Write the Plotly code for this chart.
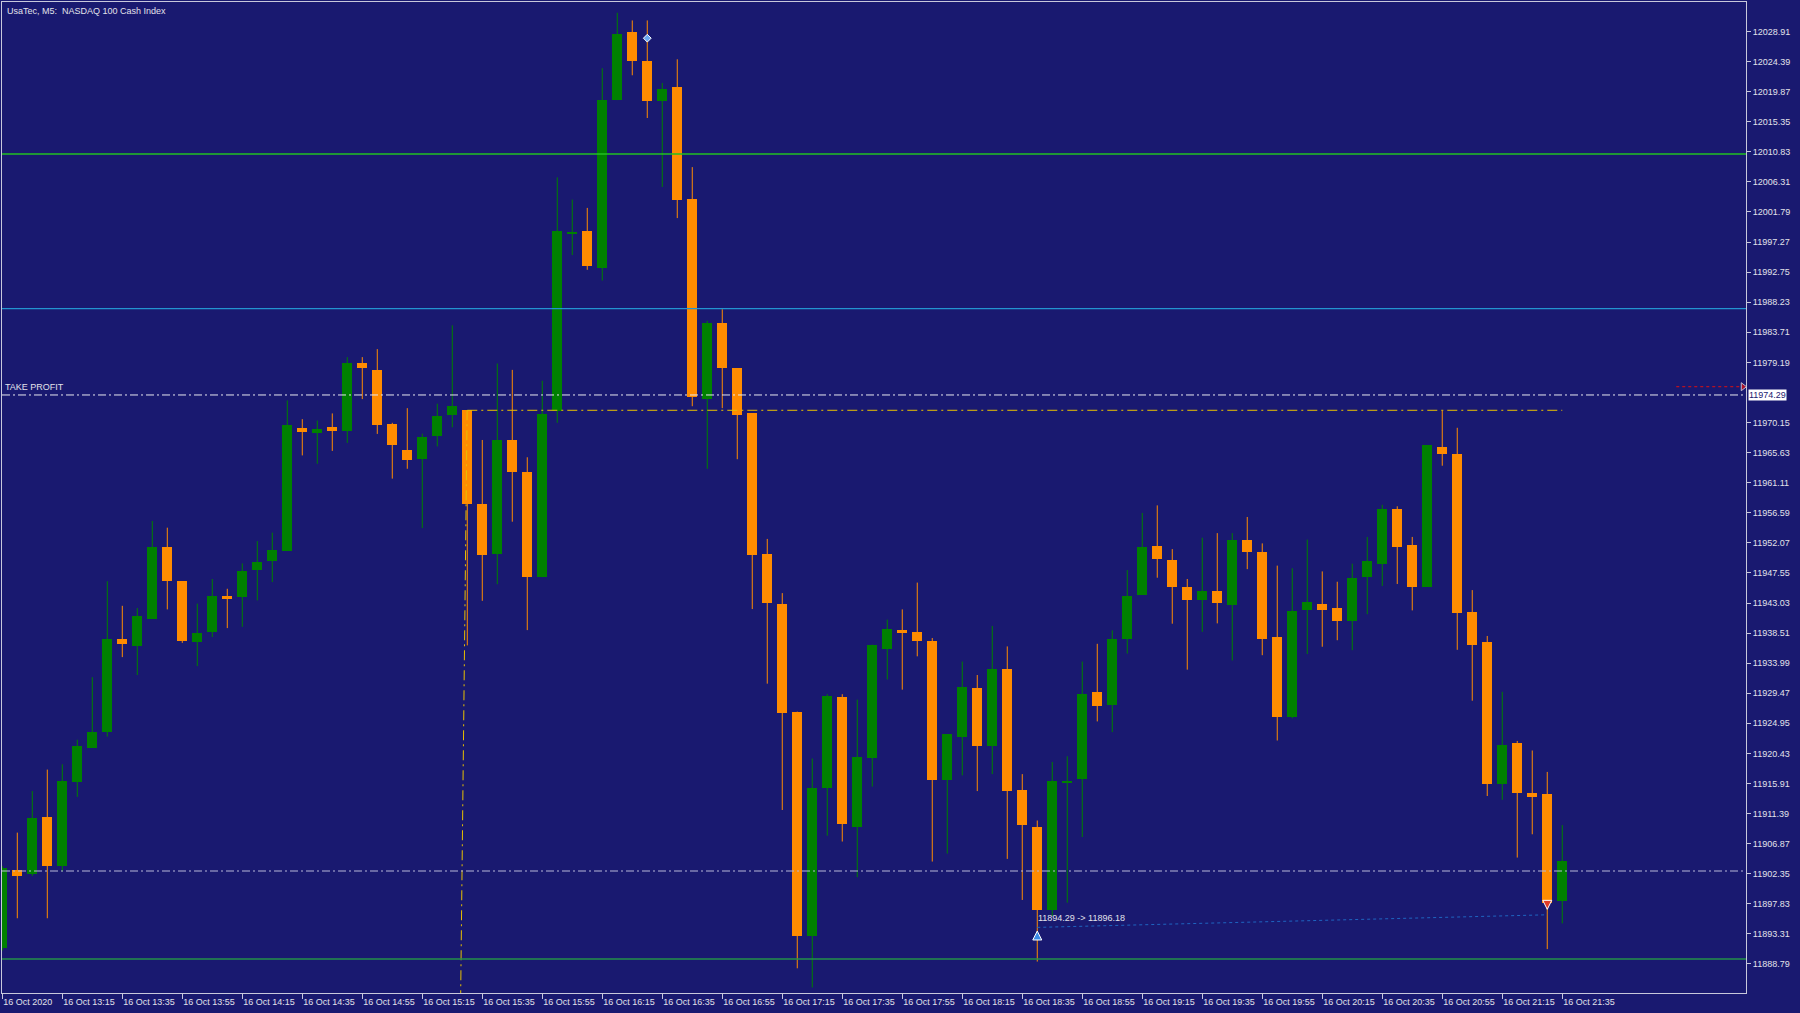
import plotly.graph_objects as go

# ---------------- data ----------------
bar_index = list(range(105))  # 5-minute bars, 16 Oct 2020 12:55 .. 21:35
opens = [11891.2, 11902.90, 11902.36, 11910.88, 11903.58, 11916.12, 11921.28, 11923.63, 11937.65, 11936.57,
         11940.66, 11951.46, 11946.30, 11937.17, 11938.72, 11944.00, 11943.95, 11947.92, 11949.39, 11950.86,
         11969.31, 11968.58, 11969.51, 11968.83, 11979.17, 11978.10, 11969.91, 11965.98, 11964.64, 11968.10,
         11971.25, 11972.02, 11957.94, 11950.46, 11967.53, 11962.73, 11946.91, 11971.82, 11998.60, 11998.94,
         11993.38, 12018.60, 12028.85, 12024.44, 12018.40, 12020.61, 12003.74, 11973.65, 11985.06, 11978.34,
         11971.54, 11950.46, 11942.88, 11926.71, 11893.04, 11915.25, 11928.92, 11909.40, 11919.80, 11936.17,
         11939.05, 11938.66, 11937.25, 11916.45, 11922.96, 11930.20, 11921.62, 11933.08, 11914.90, 11909.40,
         11896.86, 11916.10, 11916.59, 11929.60, 11927.72, 11937.58, 11944.29, 11951.60, 11949.52, 11945.50,
         11943.46, 11944.85, 11942.79, 11952.44, 11950.77, 11937.89, 11925.93, 11942.04, 11942.84, 11942.27,
         11940.37, 11946.98, 11948.94, 11957.16, 11951.70, 11945.44, 11966.53, 11965.49, 11941.70, 11937.10,
         11915.87, 11921.96, 11914.50, 11914.38, 11898.33]
highs = [11903.5, 11908.53, 11914.77, 11918.00, 11918.80, 11922.49, 11931.88, 11946.30, 11942.61, 11942.28,
         11955.35, 11954.35, 11946.30, 11942.94, 11946.64, 11945.17, 11948.98, 11952.33, 11953.61, 11973.47,
         11970.65, 11970.45, 11971.52, 11979.98, 11979.98, 11981.18, 11970.11, 11972.31, 11968.47, 11972.98,
         11984.76, 11972.02, 11967.53, 11979.02, 11978.06, 11964.93, 11976.43, 12006.99, 12003.65, 12002.40,
         12023.39, 12031.72, 12030.57, 12030.57, 12021.18, 12024.73, 12008.53, 11985.44, 11987.17, 11978.34,
         11971.54, 11952.66, 11944.52, 11926.71, 11919.67, 11929.33, 11929.33, 11928.52, 11936.78, 11940.54,
         11942.07, 11946.10, 11937.77, 11923.29, 11934.23, 11932.21, 11939.59, 11936.51, 11917.32, 11910.35,
         11919.14, 11920.00, 11934.23, 11936.90, 11938.92, 11947.98, 11956.57, 11957.70, 11951.13, 11946.64,
         11952.84, 11953.53, 11953.53, 11955.96, 11951.99, 11948.65, 11948.25, 11952.56, 11947.78, 11946.23,
         11948.94, 11952.96, 11957.79, 11957.56, 11952.96, 11966.76, 11971.94, 11969.36, 11944.97, 11938.08,
         11929.68, 11922.31, 11920.87, 11917.65, 11909.66]
lows = [11890.8, 11895.66, 11902.03, 11895.66, 11902.70, 11913.90, 11921.28, 11922.96, 11934.90, 11932.21,
        11940.66, 11942.07, 11937.04, 11933.55, 11937.92, 11939.26, 11939.46, 11943.42, 11946.18, 11950.86,
        11965.21, 11963.95, 11965.89, 11967.09, 11973.67, 11968.44, 11961.72, 11963.20, 11954.29, 11966.56,
        11969.43, 11936.66, 11943.36, 11945.86, 11955.25, 11938.96, 11946.91, 11970.11, 11995.31, 11993.10,
        11991.48, 12018.60, 12022.33, 12015.91, 12005.56, 12000.87, 11972.60, 11963.20, 11972.31, 11964.64,
        11942.12, 11930.91, 11911.93, 11888.14, 11885.26, 11908.07, 11907.19, 11901.83, 11915.45, 11931.54,
        11930.01, 11935.02, 11904.18, 11905.38, 11917.13, 11914.77, 11917.32, 11904.58, 11898.41, 11889.15,
        11895.99, 11898.00, 11907.87, 11925.24, 11923.63, 11935.43, 11944.29, 11946.83, 11939.92, 11933.02,
        11938.70, 11939.97, 11934.39, 11948.12, 11935.19, 11922.37, 11925.71, 11935.37, 11936.46, 11937.44,
        11935.94, 11941.35, 11945.60, 11945.89, 11941.92, 11945.44, 11963.66, 11936.00, 11928.35, 11914.03,
        11913.46, 11904.78, 11908.28, 11891.03, 11894.89]
closes = [11903.2, 11901.97, 11910.74, 11903.58, 11916.24, 11921.48, 11923.69, 11937.65, 11936.84, 11941.07,
          11951.46, 11946.30, 11937.38, 11938.53, 11944.16, 11943.80, 11947.84, 11949.18, 11950.93, 11969.78,
          11968.71, 11969.18, 11968.83, 11979.17, 11978.30, 11969.72, 11966.76, 11964.45, 11967.99, 11971.16,
          11972.59, 11957.94, 11950.28, 11967.53, 11962.73, 11946.91, 11971.36, 11998.86, 11998.70, 11993.68,
          12018.60, 12028.56, 12024.53, 12018.40, 12020.22, 12003.65, 11974.03, 11985.15, 11978.34, 11971.25,
          11950.28, 11943.08, 11926.50, 11893.04, 11915.25, 11929.06, 11909.87, 11919.88, 11936.78, 11939.13,
          11938.59, 11937.38, 11916.45, 11923.29, 11930.34, 11921.62, 11933.08, 11914.77, 11909.61, 11896.86,
          11916.24, 11916.30, 11929.33, 11927.51, 11937.58, 11944.08, 11951.46, 11949.66, 11945.50, 11943.42,
          11944.79, 11943.08, 11952.44, 11950.67, 11937.67, 11925.93, 11941.80, 11943.14, 11941.92, 11940.37,
          11946.80, 11949.28, 11957.10, 11951.42, 11945.44, 11966.76, 11965.49, 11941.51, 11936.75, 11915.87,
          11921.68, 11914.44, 11913.91, 11898.00, 11904.21]

# axis tick labels
x_tick_index = [0, 4, 8, 12, 16, 20, 24, 28, 32, 36, 40, 44, 48, 52, 56, 60, 64, 68, 72, 76, 80, 84, 88, 92, 96, 100, 104]
x_tick_labels = ["16 Oct 2020", "16 Oct 13:15", "16 Oct 13:35", "16 Oct 13:55", "16 Oct 14:15", "16 Oct 14:35",
                 "16 Oct 14:55", "16 Oct 15:15", "16 Oct 15:35", "16 Oct 15:55", "16 Oct 16:15", "16 Oct 16:35",
                 "16 Oct 16:55", "16 Oct 17:15", "16 Oct 17:35", "16 Oct 17:55", "16 Oct 18:15", "16 Oct 18:35",
                 "16 Oct 18:55", "16 Oct 19:15", "16 Oct 19:35", "16 Oct 19:55", "16 Oct 20:15", "16 Oct 20:35",
                 "16 Oct 20:55", "16 Oct 21:15", "16 Oct 21:35"]
y_tick_values = [12028.91, 12024.39, 12019.87, 12015.35, 12010.83, 12006.31, 12001.79, 11997.27, 11992.75,
                 11988.23, 11983.71, 11979.19, 11970.15, 11965.63, 11961.11, 11956.59, 11952.07, 11947.55,
                 11943.03, 11938.51, 11933.99, 11929.47, 11924.95, 11920.43, 11915.91, 11911.39, 11906.87,
                 11902.35, 11897.83, 11893.31, 11888.79]

# chart objects (price levels)
level_green_top = 12010.50
level_cyan = 11987.26
level_take_profit = 11974.29
level_red_arrow = 11975.53
level_yellow = 11971.99
level_entry = 11902.76
level_green_bottom = 11889.54
yellow_h_start = 31.0
yellow_h_end = 104.0
yellow_v_x = [30.99, 30.56]
yellow_v_y = [11971.99, 11884.43]
red_arrow_x = [111.6, 116.05]
trade_x = [69, 103]
trade_price = [11894.29, 11896.18]
trade_arrow_y = [11893.75, 11897.0]
top_marker_x = [43]
top_marker_y = [12027.9]

# ---------------- style ----------------
BG = "#191970"
UP = "#008000"
DOWN = "#FF8C00"
TXT = "#E2E2EA"
FRAME = "#C8C8DC"
FONT = "Liberation Sans"
FS = 9

x_range = [-0.02, 116.25]
y_range = [11884.43, 12033.34]

fig = go.Figure()

# wicks
for color, is_up in ((UP, True), (DOWN, False)):
    wx, wy = [], []
    for i, o, h, l, c in zip(bar_index, opens, highs, lows, closes):
        if (c >= o) == is_up:
            wx += [i, i, None]
            wy += [l, h, None]
    fig.add_trace(go.Scatter(x=wx, y=wy, mode="lines", line=dict(color=color, width=1),
                             hoverinfo="skip", showlegend=False))

# bodies
for color, is_up in ((UP, True), (DOWN, False)):
    bx, bb, bh = [], [], []
    for i, o, c in zip(bar_index, opens, closes):
        if (c >= o) == is_up:
            lo, hi = min(o, c), max(o, c)
            if hi - lo < 0.25:
                mid = (hi + lo) / 2
                lo, hi = mid - 0.125, mid + 0.125
            bx.append(i)
            bb.append(lo)
            bh.append(hi - lo)
    fig.add_trace(go.Bar(x=bx, y=bh, base=bb, width=0.68, marker=dict(color=color, line=dict(width=0)),
                         hoverinfo="skip", showlegend=False))

# horizontal levels (full width)
for lvl, col, dash, w in ((level_green_top, "#22C022", "solid", 1.4),
                          (level_cyan, "#2394D0", "solid", 1.4),
                          (level_green_bottom, "#23904A", "solid", 1.6),
                          (level_take_profit, "#E8E8F0", "8px,3px,2px,3px", 1),
                          (level_entry, "#B8B8D8", "8px,3px,2px,3px", 1.2)):
    fig.add_shape(type="line", xref="paper", x0=0, x1=1, yref="y", y0=lvl, y1=lvl,
                  line=dict(color=col, width=w, dash=dash), layer="above")

# yellow objects
fig.add_trace(go.Scatter(x=[yellow_h_start, yellow_h_end], y=[level_yellow, level_yellow], mode="lines",
                         line=dict(color="#E8C000", width=1, dash="10px,4px,2px,4px"),
                         hoverinfo="skip", showlegend=False))
fig.add_trace(go.Scatter(x=yellow_v_x, y=yellow_v_y, mode="lines",
                         line=dict(color="#E8C000", width=1, dash="10px,4px,2px,4px"),
                         hoverinfo="skip", showlegend=False))

# red dotted arrow line
fig.add_trace(go.Scatter(x=red_arrow_x, y=[level_red_arrow, level_red_arrow], mode="lines+markers",
                         line=dict(color="#E01010", width=1, dash="dot"),
                         marker=dict(symbol=["line-ns", "triangle-right"], size=[0, 7], color="#E01010"),
                         hoverinfo="skip", showlegend=False))

# trade line and arrows
fig.add_trace(go.Scatter(x=trade_x, y=trade_price, mode="lines",
                         line=dict(color="#1E64C0", width=1, dash="dot"),
                         hoverinfo="skip", showlegend=False))
fig.add_trace(go.Scatter(x=trade_x, y=trade_arrow_y, mode="markers",
                         marker=dict(symbol=["arrow-up", "arrow-down"], size=9,
                                     color=["#3C8CE6", "#E03C28"], line=dict(color="white", width=1)),
                         hoverinfo="skip", showlegend=False))
fig.add_trace(go.Scatter(x=top_marker_x, y=top_marker_y, mode="markers",
                         marker=dict(symbol="diamond", size=6, color="#6AA8F0", line=dict(color="white", width=1)),
                         hoverinfo="skip", showlegend=False))

annotations = [
    dict(text="UsaTec, M5:  NASDAQ 100 Cash Index", xref="paper", yref="paper", x=0, y=1, xshift=3, yshift=-2,
         xanchor="left", yanchor="top", showarrow=False, font=dict(family=FONT, size=FS, color=TXT)),
    dict(text="TAKE PROFIT", xref="paper", yref="y", x=0, y=level_take_profit, xshift=1, yshift=1,
         xanchor="left", yanchor="bottom", showarrow=False, font=dict(family=FONT, size=FS, color=TXT)),
    dict(text=f"{trade_price[0]:.2f} -> {trade_price[1]:.2f}", xref="x", yref="y", x=trade_x[0], y=trade_price[0],
         xshift=-1, yshift=2, xanchor="left", yanchor="bottom", showarrow=False,
         font=dict(family=FONT, size=FS, color=TXT)),
    dict(text=f"{level_take_profit:.2f}", xref="paper", yref="y", x=1, y=level_take_profit, xshift=2,
         xanchor="left", yanchor="middle", showarrow=False, bgcolor="white", borderpad=0,
         font=dict(family=FONT, size=FS, color=BG)),
]

fig.update_layout(
    width=1800, height=1013,
    margin=dict(l=2, r=54, t=2, b=20, autoexpand=False),
    paper_bgcolor=BG, plot_bgcolor=BG,
    barmode="overlay", bargap=0,
    showlegend=False,
    annotations=annotations,
    xaxis=dict(range=x_range, showgrid=False, zeroline=False, showline=True, linecolor=FRAME, linewidth=1,
               mirror=True, tickmode="array", tickvals=x_tick_index, ticktext=x_tick_labels,
               ticks="outside", ticklen=5, tickcolor=FRAME, tickwidth=1, tickangle=0, automargin=False,
               ticklabelposition="outside right",
               tickfont=dict(family=FONT, size=FS, color=TXT), fixedrange=True),
    yaxis=dict(range=y_range, side="right", showgrid=False, zeroline=False, showline=True, linecolor=FRAME,
               linewidth=1, mirror=True, tickmode="array", tickvals=y_tick_values, automargin=False,
               ticktext=[f"{v:.2f}" for v in y_tick_values],
               ticks="outside", ticklen=4, tickcolor=FRAME, tickwidth=1,
               tickfont=dict(family=FONT, size=FS, color=TXT), fixedrange=True),
)

fig.write_html("out.html", config={"displayModeBar": False},
               post_script="document.body.style.margin='0';document.body.style.background='#191970';"
                           "document.body.style.overflow='hidden';")
